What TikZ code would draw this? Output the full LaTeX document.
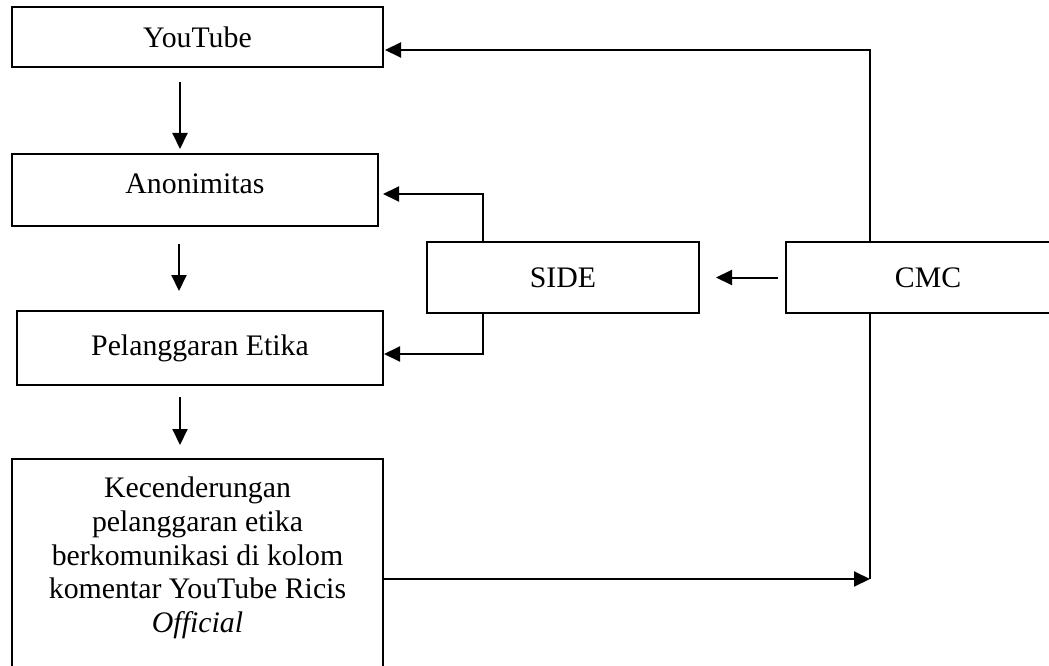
\documentclass[tikz,border=0pt]{standalone}
\usepackage{fontspec}
\setmainfont{Liberation Serif}
\usetikzlibrary{arrows.meta,positioning}
\tikzstyle{box} = [rectangle, draw, line width=2pt, inner sep=0pt, outer sep=0pt, font=\fontsize{29.8}{33.7}\selectfont]
\tikzstyle{arrow} = [line width=2pt,-{Triangle[length=16pt,width=15pt]}]
\tikzstyle{link} = [line width=2pt]

\begin{document}
\begin{tikzpicture}[x=1pt, y=-1pt]
    \useasboundingbox (0,0) rectangle (1049,666);
    \clip (0,0) rectangle (1049,666);

    % Boxes
    \node [box, minimum width=371pt, minimum height=60pt] (youtube) at (197.5,37) {YouTube};
    \node [box, minimum width=366pt, minimum height=72pt, text depth=12pt] (anonim) at (195,190) {Anonimitas};
    \node [box, minimum width=366pt, minimum height=74pt] (etika) at (200,348) {Pelanggaran Etika};
    \node [box, minimum width=371pt, minimum height=231pt,
        label={[name=kectext, anchor=north, align=center, inner sep=0pt, yshift=-18pt, font=\fontsize{29.8}{33.7}\selectfont]north:{Kecenderungan\\ pelanggaran etika\\ berkomunikasi di kolom\\ komentar YouTube Ricis\\ \textit{Official}}}]
        (kecenderungan) at (197.5,574.5) {};
    \node [box, minimum width=272pt, minimum height=71pt] (side) at (563,277.5) {SIDE};
    \node [box, minimum width=284pt, minimum height=71pt] (cmc) at (928,277.5) {CMC};
    \coordinate (join) at (870,579);

    % Arrows
    \draw [arrow, shorten <=15pt, shorten >=5pt] ([xshift=-17.5pt]youtube.south) -- ([xshift=-15pt]anonim.north);
    \draw [arrow, shorten <=18pt, shorten >=20pt] ([xshift=-16pt]anonim.south) -- ([xshift=-21pt]etika.north);
    \draw [arrow, shorten <=12pt, shorten >=14pt] ([xshift=-20pt]etika.south) -- ([xshift=-17.5pt]kecenderungan.north);
    \draw [arrow, shorten >=2pt] ([xshift=-58pt]cmc.north) |- ([yshift=-13pt]youtube.east);
    \draw [arrow, shorten >=5pt] ([xshift=-80pt]side.north) |- ([yshift=-4pt]anonim.east);
    \draw [arrow, shorten >=1pt] ([xshift=-80pt]side.south) |- ([yshift=-6pt]etika.east);
    \draw [arrow, shorten <=8pt, shorten >=17pt] (cmc.west) -- (side.east);
    \draw [arrow] (kecenderungan.east |- join) -- (join);
    \draw [link] ([xshift=-58pt]cmc.south) -- (join);
\end{tikzpicture}
\end{document}
